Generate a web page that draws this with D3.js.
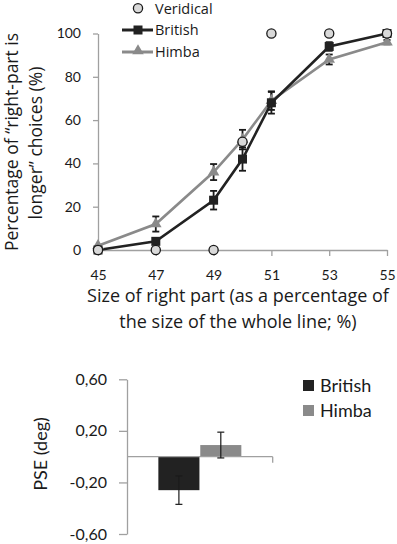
<!DOCTYPE html>
<html><head><meta charset="utf-8">
<script src="https://cdn.jsdelivr.net/npm/d3@7"></script>
<style>
body{margin:0;background:#fff}
svg{display:block}
text{font-family:Lato, "Open Sans", sans-serif; fill:#1a1a1a}
text.os{font-family:"Open Sans", sans-serif}
</style>
</head><body>
<svg id="c" width="397" height="544"></svg>
<script>
// ---- data ----
const sizes = [45, 47, 49, 50, 51, 53, 55];
const veridical = [0, 0, 0, 50, 100, 100, 100];
const british = [0, 4, 23, 42, 68, 94, 100];
const britishErr = [0, 1, 4.3, 5.4, 5, 2, 0];
const himba = [2, 12, 36, 51, 69, 88, 96];
const himbaErr = [0, 3.5, 3.7, 4.5, 4.3, 2.3, 1];
const xTicks = [45, 47, 49, 51, 53, 55];
const yTicks = [0, 20, 40, 60, 80, 100];
const groups = ["British", "Himba"];
const pse = [-0.26, 0.09];
const pseErr = [0.11, 0.1];
const pseTicks = [-0.6, -0.2, 0.2, 0.6];

const svg = d3.select("#c");
const axisGray = "#a0a0a0";
const dark = "#222222";
const gray = "#8a8a8a";

// ---- top chart ----
const x = d3.scaleLinear().domain([45, 55]).range([98, 387]);
const y = d3.scaleLinear().domain([0, 100]).range([250, 33.5]);

const gy = svg.append("g").attr("transform", "translate(98,0)")
  .call(d3.axisLeft(y).tickValues(yTicks).tickSize(5).tickSizeOuter(0).tickPadding(12));
const gx = svg.append("g").attr("transform", "translate(0,250)")
  .call(d3.axisBottom(x).tickValues(xTicks).tickSize(6).tickSizeOuter(0).tickPadding(14));
[gx, gy].forEach(g => {
  g.select(".domain").attr("stroke", axisGray).attr("stroke-width", 1.3);
  g.selectAll(".tick line").attr("stroke", axisGray).attr("stroke-width", 1.3);
  g.selectAll(".tick text").attr("font-size", 14).attr("fill", "#1a1a1a")
   .attr("font-family", "Lato, sans-serif");
});

function series(vals) { return sizes.map((s, i) => ({ s, v: vals[i] })); }
const line = d3.line().x(d => x(d.s)).y(d => y(d.v));

svg.append("path").datum(series(himba)).attr("d", line)
  .attr("fill", "none").attr("stroke", gray).attr("stroke-width", 2.6);
svg.append("path").datum(series(british)).attr("d", line)
  .attr("fill", "none").attr("stroke", dark).attr("stroke-width", 2.6);

function errBars(vals, errs, color) {
  const g = svg.append("g").attr("stroke", color).attr("stroke-width", 1.8);
  sizes.forEach((s, i) => {
    if (!errs[i]) return;
    const cx = x(s), y1 = y(vals[i] + errs[i]), y2 = y(vals[i] - errs[i]);
    g.append("line").attr("x1", cx).attr("x2", cx).attr("y1", y1).attr("y2", y2);
    g.append("line").attr("x1", cx - 3.5).attr("x2", cx + 3.5).attr("y1", y1).attr("y2", y1);
    g.append("line").attr("x1", cx - 3.5).attr("x2", cx + 3.5).attr("y1", y2).attr("y2", y2);
  });
}
errBars(himba, himbaErr, "#1a1a1a");
errBars(british, britishErr, "#1a1a1a");

const tri = d3.symbol().type(d3.symbolTriangle).size(58);
svg.append("g").selectAll("path").data(series(himba)).join("path")
  .attr("d", tri).attr("transform", d => `translate(${x(d.s)},${y(d.v)})`)
  .attr("fill", gray);
svg.append("g").selectAll("rect").data(series(british)).join("rect")
  .attr("x", d => x(d.s) - 4.5).attr("y", d => y(d.v) - 4.5)
  .attr("width", 9).attr("height", 9).attr("fill", dark);
svg.append("g").selectAll("circle").data(series(veridical)).join("circle")
  .attr("cx", d => x(d.s)).attr("cy", d => y(d.v)).attr("r", 4.6)
  .attr("fill", "#d9d9d9").attr("stroke", "#1a1a1a").attr("stroke-width", 1.3);

// top legend
const lg = svg.append("g");
lg.append("circle").attr("cx", 138).attr("cy", 8.3).attr("r", 4.6)
  .attr("fill", "#d9d9d9").attr("stroke", "#1a1a1a").attr("stroke-width", 1.3);
lg.append("text").attr("class", "os").attr("x", 155).attr("y", 13.5).attr("font-size", 14.5).text("Veridical");
lg.append("line").attr("x1", 122).attr("x2", 153).attr("y1", 30).attr("y2", 30)
  .attr("stroke", dark).attr("stroke-width", 3);
lg.append("rect").attr("x", 133.5).attr("y", 25.5).attr("width", 9).attr("height", 9).attr("fill", dark);
lg.append("text").attr("class", "os").attr("x", 155).attr("y", 35).attr("font-size", 14.5).text(groups[0]);
lg.append("line").attr("x1", 122).attr("x2", 153).attr("y1", 52).attr("y2", 52)
  .attr("stroke", gray).attr("stroke-width", 3);
lg.append("path").attr("d", tri).attr("transform", "translate(138,51)").attr("fill", gray);
lg.append("text").attr("class", "os").attr("x", 155).attr("y", 56.5).attr("font-size", 14.5).text(groups[1]);

// axis titles top
svg.append("text").attr("class", "os").attr("transform", "translate(18,142) rotate(-90)")
  .attr("text-anchor", "middle").attr("font-size", 17.5).text("Percentage of \u201Cright-part is");
svg.append("text").attr("class", "os").attr("transform", "translate(41.5,143) rotate(-90)")
  .attr("text-anchor", "middle").attr("font-size", 17.5).text("longer\u201D choices (%)");
svg.append("text").attr("class", "os").attr("x", 238).attr("y", 302)
  .attr("text-anchor", "middle").attr("font-size", 18).text("Size of right part (as a percentage of");
svg.append("text").attr("class", "os").attr("x", 238).attr("y", 328)
  .attr("text-anchor", "middle").attr("font-size", 18).text("the size of the whole line; %)");

// ---- bottom chart ----
const y2 = d3.scaleLinear().domain([-0.6, 0.6]).range([534, 379.3]);
const xb = d3.scaleBand().domain(["PSE"]).range([127, 272.7]).paddingInner(0).paddingOuter(0.378);
const xs = d3.scaleBand().domain(groups).range([0, xb.bandwidth()]).paddingInner(0.02);
const fmt = v => (v < 0 ? "-" : "") + Math.abs(v).toFixed(2).replace(".", ",");

const gy2 = svg.append("g").attr("transform", "translate(127,0)")
  .call(d3.axisLeft(y2).tickValues(pseTicks).tickFormat(fmt).tickSize(8).tickSizeOuter(0).tickPadding(12));
gy2.select(".domain").attr("stroke", axisGray).attr("stroke-width", 1.3);
gy2.selectAll(".tick line").attr("stroke", axisGray).attr("stroke-width", 1.3);
gy2.selectAll(".tick text").attr("font-size", 16).attr("fill", "#1a1a1a").attr("font-family", "Lato, sans-serif");

const colors = [dark, gray];
svg.append("g").selectAll("rect").data(groups).join("rect")
  .attr("x", (d) => xb("PSE") + xs(d))
  .attr("width", xs.bandwidth())
  .attr("y", (d, i) => y2(Math.max(0, pse[i])))
  .attr("height", (d, i) => Math.abs(y2(pse[i]) - y2(0)))
  .attr("fill", (d, i) => colors[i]);

// baseline at zero
const [bx0, bx1] = xb.range();
svg.append("line").attr("x1", bx0).attr("x2", bx1).attr("y1", y2(0)).attr("y2", y2(0))
  .attr("stroke", axisGray).attr("stroke-width", 1.3);
svg.append("line").attr("x1", bx1).attr("x2", bx1).attr("y1", y2(0)).attr("y2", y2(0) + 6)
  .attr("stroke", axisGray).attr("stroke-width", 1.3);

// error bars
const eg = svg.append("g").attr("stroke", "#1a1a1a").attr("stroke-width", 1.2);
groups.forEach((gname, i) => {
  const cx = xb("PSE") + xs(gname) + xs.bandwidth() / 2;
  const t = y2(pse[i] + pseErr[i]), b = y2(pse[i] - pseErr[i]);
  eg.append("line").attr("x1", cx).attr("x2", cx).attr("y1", t).attr("y2", b);
  eg.append("line").attr("x1", cx - 3.5).attr("x2", cx + 3.5).attr("y1", t).attr("y2", t);
  eg.append("line").attr("x1", cx - 3.5).attr("x2", cx + 3.5).attr("y1", b).attr("y2", b);
});

// bottom legend
const lg2 = svg.append("g");
groups.forEach((gname, i) => {
  lg2.append("rect").attr("x", 303).attr("y", 380 + i * 25).attr("width", 11).attr("height", 11).attr("fill", colors[i]);
  lg2.append("text").attr("x", 320).attr("y", 392 + i * 25).attr("font-size", 18).text(gname);
});

svg.append("text").attr("transform", "translate(47,454) rotate(-90)")
  .attr("text-anchor", "middle").attr("font-size", 18).text("PSE (deg)");
</script>
</body></html>
